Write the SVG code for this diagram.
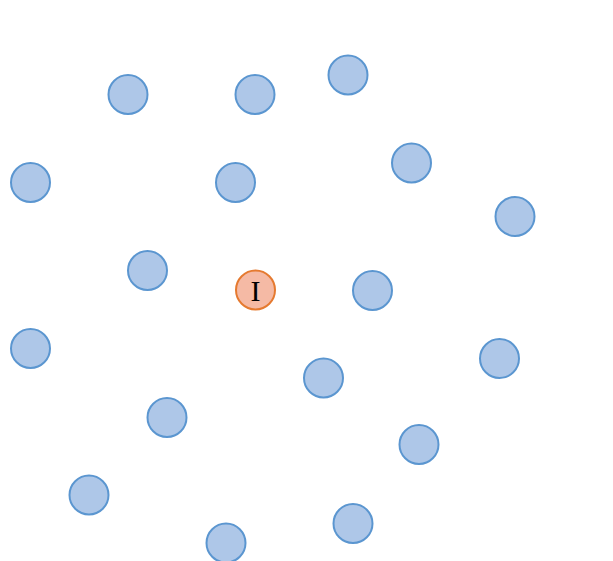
<svg xmlns="http://www.w3.org/2000/svg" width="613" height="561" viewBox="0 0 613 561">
<style>
.n{fill:#aec7e8;stroke:#5b96d0;stroke-width:2}
.o{fill:#f5baa5;stroke:#e57a30;stroke-width:2}
.t{font-family:"Liberation Serif","Times New Roman",serif;font-size:30px;font-weight:normal;fill:#000;text-anchor:middle}
</style>
<rect width="613" height="561" fill="#fff"/>
<g id="connectors"></g>
<g id="n1"><circle class="n" cx="128" cy="94.5" r="19.5"/></g>
<g id="n2"><circle class="n" cx="255" cy="94.5" r="19.5"/></g>
<g id="n3"><circle class="n" cx="348" cy="75" r="19.5"/></g>
<g id="n4"><circle class="n" cx="30.5" cy="182.5" r="19.5"/></g>
<g id="n5"><circle class="n" cx="235.5" cy="182.5" r="19.5"/></g>
<g id="n6"><circle class="n" cx="411.5" cy="163" r="19.5"/></g>
<g id="n7"><circle class="n" cx="515" cy="216.5" r="19.5"/></g>
<g id="n8"><circle class="n" cx="147.5" cy="270.5" r="19.5"/></g>
<g id="nI"><circle class="o" cx="255.5" cy="290" r="19.5"/><text class="t" x="255.5" y="301">I</text></g>
<g id="n9"><circle class="n" cx="372.5" cy="290.5" r="19.5"/></g>
<g id="n10"><circle class="n" cx="30.5" cy="348.5" r="19.5"/></g>
<g id="n11"><circle class="n" cx="499.5" cy="358.5" r="19.5"/></g>
<g id="n12"><circle class="n" cx="323.5" cy="378" r="19.5"/></g>
<g id="n13"><circle class="n" cx="167" cy="417.5" r="19.5"/></g>
<g id="n14"><circle class="n" cx="419" cy="444.5" r="19.5"/></g>
<g id="n15"><circle class="n" cx="89" cy="495" r="19.5"/></g>
<g id="n16"><circle class="n" cx="353" cy="523.5" r="19.5"/></g>
<g id="n17"><circle class="n" cx="226" cy="543" r="19.5"/></g>
</svg>
